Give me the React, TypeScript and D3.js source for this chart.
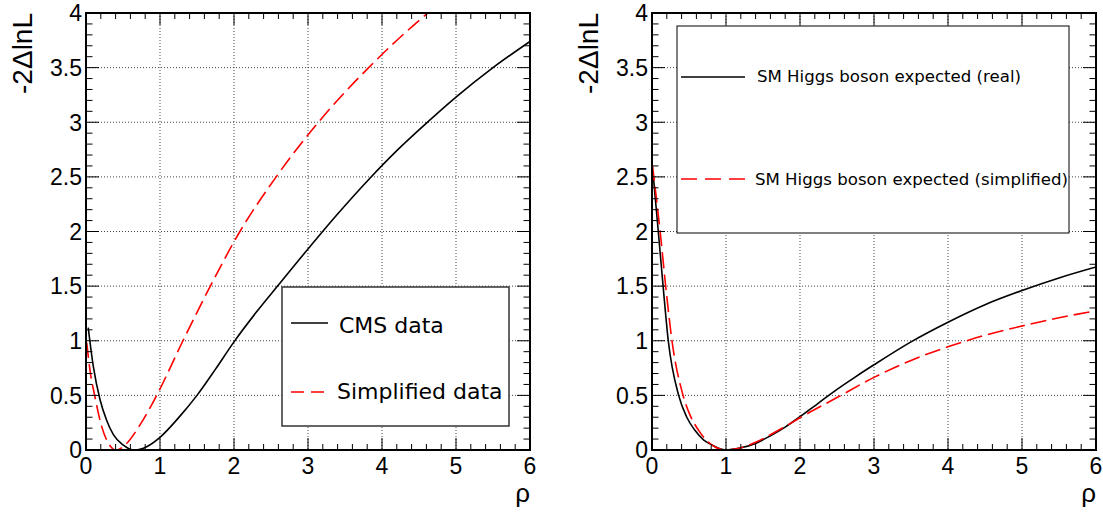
import React from "react";
import * as d3 from "d3";

// ---- data ----
const xTickValues = [0, 1, 2, 3, 4, 5, 6];
const yTickValues = [0, 0.5, 1, 1.5, 2, 2.5, 3, 3.5, 4];
const yTickLabels = ["0", "0.5", "1", "1.5", "2", "2.5", "3", "3.5", "4"];

// Left panel: CMS data (solid black)
const cmsRho = [0.03, 0.1, 0.19, 0.28, 0.37, 0.5, 0.58, 0.66, 0.74, 0.82, 1.0, 1.27, 1.5, 1.75, 2.0, 2.3, 2.6, 3.0, 3.4, 3.84, 4.2, 4.63, 5.0, 5.5, 6.0];
const cmsVal = [1.12, 0.76, 0.46, 0.27, 0.14, 0.046, 0.012, 0.0, 0.008, 0.03, 0.116, 0.31, 0.5, 0.74, 0.99, 1.26, 1.51, 1.84, 2.16, 2.49, 2.74, 3.01, 3.23, 3.5, 3.74];

// Left panel: simplified data (dashed red)
const simpRho = [0.01, 0.054, 0.12, 0.19, 0.28, 0.33, 0.4, 0.47, 0.55, 0.73, 0.955, 1.31, 1.68, 2.08, 2.57, 3.14, 3.82, 4.62, 4.8];
const simpVal = [0.98, 0.73, 0.49, 0.27, 0.09, 0.035, 0.0, 0.015, 0.06, 0.23, 0.5, 1.0, 1.5, 2.0, 2.5, 3.0, 3.5, 4.0, 4.1];

// Right panel: SM Higgs expected (real, solid black)
const realRho = [0.02, 0.085, 0.15, 0.22, 0.36, 0.47, 0.58, 0.7, 0.81, 0.9, 1.0, 1.2, 1.4, 1.6, 1.8, 2.0, 2.25, 2.5, 2.75, 3.0, 3.5, 4.0, 4.5, 5.0, 5.5, 6.0];
const realVal = [2.49, 2.0, 1.5, 1.0, 0.5, 0.3, 0.18, 0.09, 0.046, 0.015, 0.0, 0.02, 0.06, 0.13, 0.21, 0.305, 0.43, 0.555, 0.67, 0.78, 0.99, 1.17, 1.33, 1.46, 1.575, 1.675];

// Right panel: SM Higgs expected (simplified, dashed red)
const simpRRho = [0.005, 0.11, 0.185, 0.27, 0.42, 0.52, 0.63, 0.75, 0.86, 1.0, 1.2, 1.4, 1.6, 1.8, 2.0, 2.5, 3.0, 3.5, 4.0, 4.5, 5.0, 5.5, 6.0];
const simpRVal = [2.61, 2.0, 1.5, 1.0, 0.5, 0.31, 0.18, 0.08, 0.025, 0.0, 0.02, 0.07, 0.14, 0.215, 0.295, 0.48, 0.665, 0.82, 0.945, 1.05, 1.135, 1.21, 1.275];

const legendLeft = ["CMS data", "Simplified data"];
const legendRight = ["SM Higgs boson expected (real)", "SM Higgs boson expected (simplified)"];

const TOP = 13;
const BOTTOM = 450;
const TICK_FONT = "'Liberation Sans', Arial, sans-serif";
const LEG_FONT = "'DejaVu Sans', Verdana, sans-serif";

type Series = { rho: number[]; val: number[]; color: string; dash?: string };

function Panel({ x0, x1, series, idx, legend }: { x0: number; x1: number; series: Series[]; idx: number; legend: React.ReactNode }) {
  const x = d3.scaleLinear().domain([0, 6]).range([x0, x1]);
  const y = d3.scaleLinear().domain([0, 4]).range([BOTTOM, TOP]);
  const line = d3
    .line<[number, number]>()
    .x((d) => x(d[0]))
    .y((d) => y(d[1]))
    .curve(d3.curveMonotoneX);

  const xMinor = d3.range(0, 6.0001, 0.2);
  const yMinor = d3.range(0, 4.0001, 0.1);
  const clipId = `clip${idx}`;

  return (
    <g>
      <defs>
        <clipPath id={clipId}>
          <rect x={x0} y={TOP} width={x1 - x0} height={BOTTOM - TOP} />
        </clipPath>
      </defs>
      {/* grid */}
      {xTickValues.slice(1, -1).map((t) => (
        <line key={"gx" + t} x1={x(t)} x2={x(t)} y1={TOP} y2={BOTTOM} stroke="#444" strokeWidth={1} strokeDasharray="1,2" />
      ))}
      {yTickValues.slice(1, -1).map((t) => (
        <line key={"gy" + t} x1={x0} x2={x1} y1={y(t)} y2={y(t)} stroke="#444" strokeWidth={1} strokeDasharray="1,2" />
      ))}
      {/* curves */}
      <g clipPath={`url(#${clipId})`}>
        {series.map((s, i) => (
          <path
            key={i}
            d={line(s.rho.map((r, k) => [r, s.val[k]] as [number, number])) || ""}
            fill="none"
            stroke={s.color}
            strokeWidth={1.6}
            strokeDasharray={s.dash}
          />
        ))}
      </g>
      {legend}
      {/* ticks */}
      {xMinor.map((t, i) => {
        const major = i % 5 === 0;
        const len = major ? 12 : 6;
        return (
          <g key={"xt" + i}>
            <line x1={x(t)} x2={x(t)} y1={BOTTOM} y2={BOTTOM - len} stroke="#000" strokeWidth={1} />
            <line x1={x(t)} x2={x(t)} y1={TOP} y2={TOP + len} stroke="#000" strokeWidth={1} />
          </g>
        );
      })}
      {yMinor.map((t, i) => {
        const major = i % 5 === 0;
        const len = major ? 13 : 6.5;
        return (
          <g key={"yt" + i}>
            <line x1={x0} x2={x0 + len} y1={y(t)} y2={y(t)} stroke="#000" strokeWidth={1} />
            <line x1={x1} x2={x1 - len} y1={y(t)} y2={y(t)} stroke="#000" strokeWidth={1} />
          </g>
        );
      })}
      {/* frame */}
      <rect x={x0} y={TOP} width={x1 - x0} height={BOTTOM - TOP} fill="none" stroke="#000" strokeWidth={2} />
      {/* tick labels */}
      {xTickValues.map((t) => (
        <text key={"xl" + t} x={x(t)} y={474} textAnchor="middle" fontFamily={TICK_FONT} fontSize={23} fill="#000">
          {t}
        </text>
      ))}
      {yTickValues.map((t, i) => (
        <text key={"yl" + t} x={x0 - 4} y={y(t)} dy="0.36em" textAnchor="end" fontFamily={TICK_FONT} fontSize={23} fill="#000">
          {yTickLabels[i]}
        </text>
      ))}
      {/* axis titles */}
      <text x={x1} y={502} textAnchor="end" fontFamily={TICK_FONT} fontSize={26} fill="#000">
        ρ
      </text>
      <text
        transform={`translate(${x0 - 54},${TOP}) rotate(-90)`}
        textAnchor="end"
        fontFamily={TICK_FONT}
        fontSize={28}
        fill="#000"
      >
        -2ΔlnL
      </text>
    </g>
  );
}

export default function App() {
  const leftLegend = (
    <g>
      <rect x={282} y={287} width={227} height={139} fill="#fff" stroke="#333" strokeWidth={1.5} />
      <line x1={291} x2={328} y1={323} y2={323} stroke="#000" strokeWidth={1.6} />
      <line x1={291} x2={328} y1={392} y2={392} stroke="#ff0000" strokeWidth={1.6} strokeDasharray="13,7" />
      <text x={339} y={333} fontFamily={LEG_FONT} fontSize={22} fill="#000">{legendLeft[0]}</text>
      <text x={337} y={399} fontFamily={LEG_FONT} fontSize={22} fill="#000">{legendLeft[1]}</text>
    </g>
  );
  const rightLegend = (
    <g>
      <rect x={677} y={26} width={392} height={207} fill="#fff" stroke="#000" strokeWidth={1} />
      <line x1={681} x2={745} y1={77} y2={77} stroke="#000" strokeWidth={1.6} />
      <line x1={681} x2={745} y1={179} y2={179} stroke="#ff0000" strokeWidth={1.6} strokeDasharray="16,8" />
      <text x={757} y={82} fontFamily={LEG_FONT} fontSize={16.6} fill="#000">{legendRight[0]}</text>
      <text x={755} y={185} fontFamily={LEG_FONT} fontSize={16.6} fill="#000">{legendRight[1]}</text>
    </g>
  );
  return (
    <svg width={1103} height={512} style={{ position: "absolute", left: 0, top: 0, background: "#fff" }}>
      <rect x={0} y={0} width={1103} height={512} fill="#fff" />
      <Panel
        x0={86}
        x1={530}
        idx={0}
        series={[
          { rho: cmsRho, val: cmsVal, color: "#000" },
          { rho: simpRho, val: simpVal, color: "#ff0000", dash: "15,6" },
        ]}
        legend={leftLegend}
      />
      <Panel
        x0={652}
        x1={1096}
        idx={1}
        series={[
          { rho: realRho, val: realVal, color: "#000" },
          { rho: simpRRho, val: simpRVal, color: "#ff0000", dash: "16,6" },
        ]}
        legend={rightLegend}
      />
    </svg>
  );
}
